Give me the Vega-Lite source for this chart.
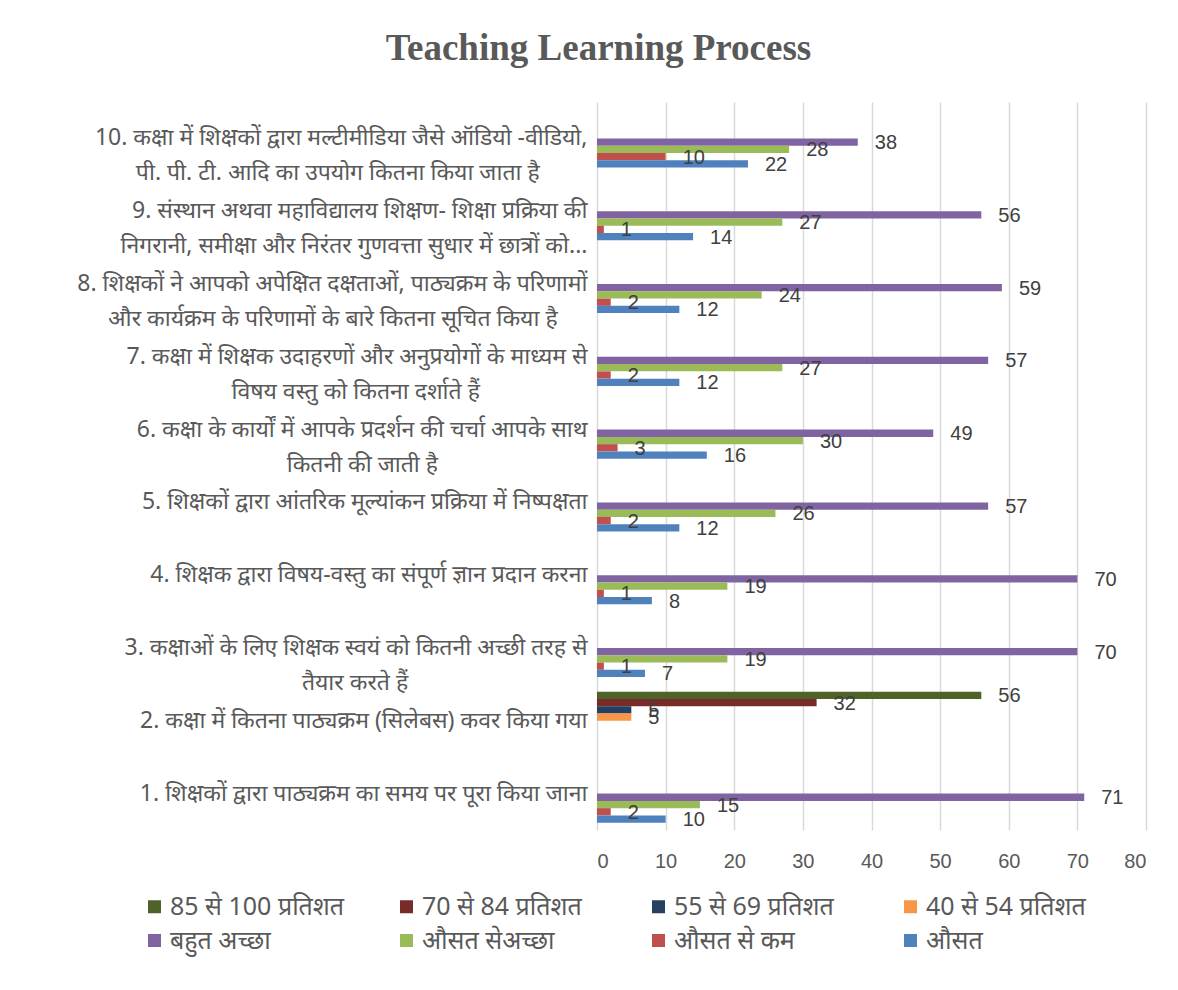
{
  "$schema": "https://vega.github.io/schema/vega-lite/v6.json",
  "autosize": "none",
  "width": 549,
  "height": 728,
  "padding": {"left": 597, "top": 102, "right": 32, "bottom": 160},
  "background": "white",
  "title": {"text": "Teaching Learning Process", "font": "Liberation Serif", "fontSize": 37, "fontWeight": "bold", "color": "#595959", "anchor": "middle", "dx": -273, "offset": 34},
  "datasets": {
    "labels": [
      {"k": 10, "q": "10. कक्षा में शिक्षकों द्वारा मल्टीमीडिया जैसे ऑडियो -वीडियो,|पी. पी. टी. आदि का उपयोग कितना किया जाता है\u00a0\u00a0\u00a0\u00a0\u00a0\u00a0\u00a0\u00a0\u200b"},
      {"k": 9, "q": "9. संस्थान अथवा महाविद्यालय शिक्षण- शिक्षा प्रक्रिया की|निगरानी, समीक्षा और निरंतर गुणवत्ता सुधार में छात्रों को..."},
      {"k": 8, "q": "8. शिक्षकों ने आपको अपेक्षित दक्षताओं, पाठ्यक्रम के परिणामों|और कार्यक्रम के परिणामों के बारे कितना सूचित किया है\u00a0\u00a0\u00a0\u00a0\u00a0\u200b"},
      {"k": 7, "q": "7. कक्षा में शिक्षक उदाहरणों और अनुप्रयोगों के माध्यम से|विषय वस्तु को कितना दर्शाते हैं\u00a0\u00a0\u00a0\u00a0\u00a0\u00a0\u00a0\u00a0\u00a0\u00a0\u00a0\u00a0\u00a0\u00a0\u00a0\u00a0\u00a0\u00a0\u200b"},
      {"k": 6, "q": "6. कक्षा के कार्यों में आपके प्रदर्शन की चर्चा आपके साथ|कितनी की जाती है\u00a0\u00a0\u00a0\u00a0\u00a0\u00a0\u00a0\u00a0\u00a0\u00a0\u00a0\u00a0\u00a0\u00a0\u00a0\u00a0\u00a0\u00a0\u00a0\u00a0\u00a0\u00a0\u00a0\u00a0\u00a0\u200b"},
      {"k": 5, "q": "5. शिक्षकों द्वारा आंतरिक मूल्यांकन प्रक्रिया में निष्पक्षता"},
      {"k": 4, "q": "4. शिक्षक द्वारा विषय-वस्तु का संपूर्ण ज्ञान प्रदान करना"},
      {"k": 3, "q": "3. कक्षाओं के लिए शिक्षक स्वयं को कितनी अच्छी तरह से|तैयार करते हैं\u00a0\u00a0\u00a0\u00a0\u00a0\u00a0\u00a0\u00a0\u00a0\u00a0\u00a0\u00a0\u00a0\u00a0\u00a0\u00a0\u00a0\u00a0\u00a0\u00a0\u00a0\u00a0\u00a0\u00a0\u00a0\u00a0\u00a0\u00a0\u00a0\u00a0\u200b"},
      {"k": 2, "q": "2. कक्षा में कितना पाठ्यक्रम (सिलेबस) कवर किया गया"},
      {"k": 1, "q": "1. शिक्षकों द्वारा पाठ्यक्रम का समय पर पूरा किया जाना"}
    ],
    "bars": [
      {"k": 10, "s": "बहुत अच्छा", "v": 38}, {"k": 10, "s": "औसत सेअच्छा", "v": 28}, {"k": 10, "s": "औसत से कम", "v": 10}, {"k": 10, "s": "औसत", "v": 22},
      {"k": 9, "s": "बहुत अच्छा", "v": 56}, {"k": 9, "s": "औसत सेअच्छा", "v": 27}, {"k": 9, "s": "औसत से कम", "v": 1}, {"k": 9, "s": "औसत", "v": 14},
      {"k": 8, "s": "बहुत अच्छा", "v": 59}, {"k": 8, "s": "औसत सेअच्छा", "v": 24}, {"k": 8, "s": "औसत से कम", "v": 2}, {"k": 8, "s": "औसत", "v": 12},
      {"k": 7, "s": "बहुत अच्छा", "v": 57}, {"k": 7, "s": "औसत सेअच्छा", "v": 27}, {"k": 7, "s": "औसत से कम", "v": 2}, {"k": 7, "s": "औसत", "v": 12},
      {"k": 6, "s": "बहुत अच्छा", "v": 49}, {"k": 6, "s": "औसत सेअच्छा", "v": 30}, {"k": 6, "s": "औसत से कम", "v": 3}, {"k": 6, "s": "औसत", "v": 16},
      {"k": 5, "s": "बहुत अच्छा", "v": 57}, {"k": 5, "s": "औसत सेअच्छा", "v": 26}, {"k": 5, "s": "औसत से कम", "v": 2}, {"k": 5, "s": "औसत", "v": 12},
      {"k": 4, "s": "बहुत अच्छा", "v": 70}, {"k": 4, "s": "औसत सेअच्छा", "v": 19}, {"k": 4, "s": "औसत से कम", "v": 1}, {"k": 4, "s": "औसत", "v": 8},
      {"k": 3, "s": "बहुत अच्छा", "v": 70}, {"k": 3, "s": "औसत सेअच्छा", "v": 19}, {"k": 3, "s": "औसत से कम", "v": 1}, {"k": 3, "s": "औसत", "v": 7},
      {"k": 2, "s": "85 से 100 प्रतिशत", "v": 56}, {"k": 2, "s": "70 से 84 प्रतिशत", "v": 32}, {"k": 2, "s": "55 से 69  प्रतिशत", "v": 5}, {"k": 2, "s": "40 से 54 प्रतिशत", "v": 5},
      {"k": 1, "s": "बहुत अच्छा", "v": 71}, {"k": 1, "s": "औसत सेअच्छा", "v": 15}, {"k": 1, "s": "औसत से कम", "v": 2}, {"k": 1, "s": "औसत", "v": 10}
    ]
  },
  "data": {"name": "bars"},
  "transform": [{"lookup": "k", "from": {"data": {"name": "labels"}, "key": "k", "fields": ["q"]}}],
  "encoding": {
    "y": {"field": "q", "type": "nominal", "sort": {"field": "k", "op": "max", "order": "descending"},
      "scale": {"paddingInner": 0.2, "paddingOuter": 0.1},
      "axis": {"title": null, "domain": false, "ticks": false, "labelPadding": 10, "labelLimit": 800, "labelFontSize": 23, "labelFont": "Noto Sans", "labelColor": "#595959", "labelLineHeight": 35, "labelAlign": "right", "labelExpr": "split(datum.label, '|')"}},
    "yOffset": {"field": "s", "type": "nominal",
      "sort": ["85 से 100 प्रतिशत", "70 से 84 प्रतिशत", "55 से 69  प्रतिशत", "40 से 54 प्रतिशत", "बहुत अच्छा", "औसत सेअच्छा", "औसत से कम", "औसत"],
      "scale": {"domain": ["85 से 100 प्रतिशत", "70 से 84 प्रतिशत", "55 से 69  प्रतिशत", "40 से 54 प्रतिशत", "बहुत अच्छा", "औसत सेअच्छा", "औसत से कम", "औसत"], "paddingInner": 0, "paddingOuter": 0}},
    "x": {"field": "v", "type": "quantitative", "scale": {"domain": [0, 80], "nice": false},
      "axis": {"title": null, "domain": false, "ticks": false, "grid": true, "gridColor": "#d9d9d9", "gridWidth": 1.5, "values": [0, 10, 20, 30, 40, 50, 60, 70, 80], "labelFontSize": 20, "labelFont": "Liberation Sans", "labelColor": "#595959", "labelPadding": 21}}
  },
  "layer": [
    {"mark": {"type": "bar"},
     "encoding": {"color": {"field": "s", "type": "nominal",
       "scale": {"domain": ["85 से 100 प्रतिशत", "70 से 84 प्रतिशत", "55 से 69  प्रतिशत", "40 से 54 प्रतिशत", "बहुत अच्छा", "औसत सेअच्छा", "औसत से कम", "औसत"],
                 "range": ["#4f6228", "#772c2a", "#254061", "#f79646", "#8064a2", "#9bbb59", "#c0504d", "#4f81bd"]},
       "legend": {"title": null, "orient": "none", "direction": "horizontal", "legendX": -455, "legendY": 792, "columns": 4, "gridAlign": "all", "symbolType": "square", "symbolSize": 169, "symbolStrokeWidth": 0, "labelOffset": 3, "labelFontSize": 25, "labelFont": "Noto Sans", "labelColor": "#595959", "labelLimit": 300, "rowPadding": 8, "columnPadding": 49}}}},
    {"mark": {"type": "text", "align": "left", "baseline": "middle", "dx": 17, "dy": 1, "fontSize": 20, "font": "Liberation Sans", "color": "#404040"},
     "encoding": {"text": {"field": "v", "type": "quantitative"}}}
  ],
  "config": {"view": {"stroke": null}}
}
